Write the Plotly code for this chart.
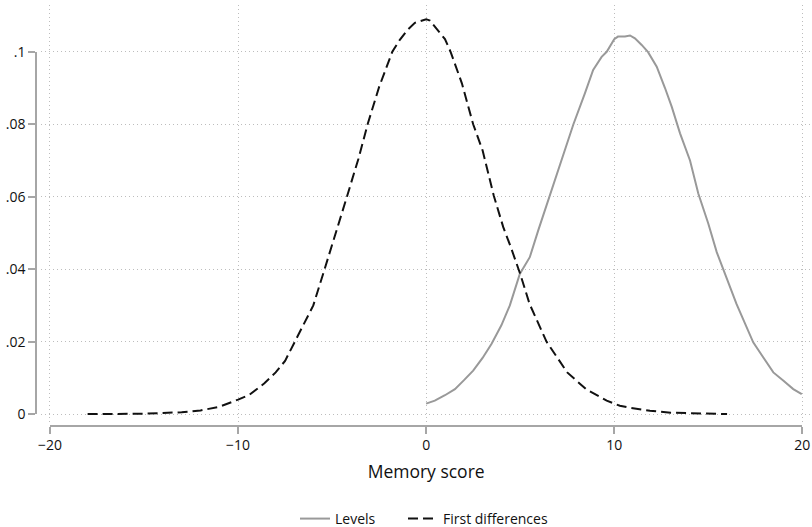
import plotly.graph_objects as go

# ---- data ----
fd_x = [-18, -17, -16, -15, -14, -13, -12, -11, -10, -9.4, -8.6, -8, -7.5, -7, -6.5, -6,
        -5.4, -4.8, -4.2, -3.6, -3.1, -2.5, -1.8, -1.4, -1.0, -0.6, 0, 0.2, 0.6, 1.0, 1.3,
        1.9, 2.5, 3.0, 3.6, 4.1, 4.5, 5.0, 5.5, 6.4, 7.5, 8.5, 9.6, 10.3, 10.8, 11.9, 13,
        14, 15, 16]
fd_y = [0.0000, 0.0000, 0.0001, 0.0001, 0.0003, 0.0005, 0.0010, 0.0020, 0.0040, 0.0053,
        0.0085, 0.0115, 0.0147, 0.0198, 0.0245, 0.0300, 0.0400, 0.0498, 0.0602, 0.0705,
        0.0802, 0.0903, 0.1000, 0.1033, 0.1060, 0.1080, 0.1090, 0.1086, 0.1060, 0.1035,
        0.1000, 0.0913, 0.0800, 0.0728, 0.0602, 0.0516, 0.0461, 0.0387, 0.0304, 0.0200,
        0.0115, 0.0069, 0.0037, 0.0023, 0.0018, 0.0009, 0.0004, 0.0002, 0.0001, 0.0000]

lv_x = [0, 0.46, 1.0, 1.53, 2.0, 2.5, 3.0, 3.48, 4.0, 4.45, 4.98, 5.51, 5.96, 6.49, 6.94,
        7.47, 7.83, 8.44, 8.88, 9.33, 9.6, 10.0, 10.2, 10.57, 10.84, 11.1, 11.46, 11.8,
        12.26, 12.7, 13.06, 13.5, 14.03, 14.47, 15.0, 15.45, 15.89, 16.5, 17.39, 17.93,
        18.46, 19.0, 19.52, 19.97]
lv_y = [0.0029, 0.0037, 0.0052, 0.0069, 0.0093, 0.0120, 0.0155, 0.0194, 0.0245, 0.0300,
        0.0387, 0.0433, 0.0507, 0.0590, 0.0664, 0.0747, 0.0800, 0.0885, 0.0950, 0.0986,
        0.1000, 0.1035, 0.1042, 0.1042, 0.1045, 0.1037, 0.1019, 0.0999, 0.0959, 0.0900,
        0.0848, 0.0775, 0.0700, 0.0609, 0.0526, 0.0447, 0.0387, 0.0304, 0.0198, 0.0157,
        0.0115, 0.0092, 0.0069, 0.0055]

x_ticks = [-20, -10, 0, 10, 20]
y_ticks = [0, 0.02, 0.04, 0.06, 0.08, 0.1]
y_ticklabels = ["0", ".02", ".04", ".06", ".08", ".1"]

W = 812
H_REF = 527
H = 535                      # figure height; vertical geometry given in reference px
SY = H / H_REF
FONT = "Open Sans"


def py(y_ref_px):
    """paper fraction for a vertical position given in reference pixels"""
    return 1 - (y_ref_px * SY) / H


fig = go.Figure()
fig.add_trace(go.Scatter(x=lv_x, y=lv_y, mode="lines", name="Levels",
                         line=dict(color="#999999", width=2), legend="legend"))
fig.add_trace(go.Scatter(x=fd_x, y=fd_y, mode="lines", name="First differences",
                         line=dict(color="#111111", width=2, dash="10px,5px"),
                         legend="legend2"))
# helper (empty) trace so the offset axis-line subplot is drawn
fig.add_trace(go.Scatter(x=[], y=[], xaxis="x2", yaxis="y2", showlegend=False,
                         hoverinfo="skip"))

# pixel geometry (reference pixels)
x_px0, x_px1 = 50.0, 802.3           # -20 .. 20
y_px0, y_px1 = 413.3, 51.7            # 0 .. 0.1
ppu_x = (x_px1 - x_px0) / 40.0
ppu_y = (y_px0 - y_px1) / 0.1
plot_top, plot_bot = 5.0, 421.0
xr = [-20.5, 20.5]
left_px = x_px0 + (xr[0] + 20) * ppu_x
right_px = x_px0 + (xr[1] + 20) * ppu_x
yr = [-(plot_bot - y_px0) / ppu_y, (y_px0 - plot_top) / ppu_y]

grid = dict(showgrid=True, gridcolor="#bdbdbd", griddash="1px,3px", gridwidth=1,
            zeroline=False, showline=False, ticks="", showticklabels=False,
            automargin=False)

leg = dict(orientation="h", xanchor="left", yanchor="middle",
           font=dict(size=14, family=FONT), bgcolor="rgba(0,0,0,0)",
           itemwidth=30, borderwidth=0)

fig.update_layout(
    template="none",
    width=W, height=H,
    margin=dict(l=0, r=0, t=0, b=0, pad=0),
    paper_bgcolor="white", plot_bgcolor="rgba(0,0,0,0)",
    font=dict(family=FONT, color="#111111", size=14),
    xaxis=dict(range=xr, domain=[left_px / W, right_px / W], tickvals=x_ticks,
               anchor="y", **grid),
    yaxis=dict(range=yr, domain=[py(plot_bot), py(plot_top)],
               tickvals=y_ticks, anchor="x", **grid),
    xaxis2=dict(range=[-20, 20], domain=[x_px0 / W, x_px1 / W], anchor="free",
                position=py(425.0), showline=True, linecolor="#a6a6a6",
                linewidth=1.6, ticks="outside", ticklen=7, tickwidth=1.6,
                tickcolor="#a6a6a6", tickvals=x_ticks, showgrid=False,
                zeroline=False, automargin=False,
                tickfont=dict(size=14, family=FONT, color="#111111"),
                title=dict(text="Memory score", font=dict(size=17.5, family=FONT),
                           standoff=11)),
    yaxis2=dict(range=[0, 0.1], domain=[py(y_px0), py(y_px1)],
                anchor="free", position=36.0 / W, showline=True,
                linecolor="#a6a6a6", linewidth=1.6, ticks="outside", ticklen=7,
                tickwidth=1.6, tickcolor="#a6a6a6", tickvals=y_ticks,
                ticktext=y_ticklabels, showgrid=False, zeroline=False,
                automargin=False,
                tickfont=dict(size=14, family=FONT, color="#111111")),
    legend=dict(x=295 / W, y=py(518), **leg),
    legend2=dict(x=403 / W, y=py(518), **leg),
    showlegend=True,
)

fig.write_html("out.html", config={"displayModeBar": False},
               post_script="document.body.style.margin='0';")
